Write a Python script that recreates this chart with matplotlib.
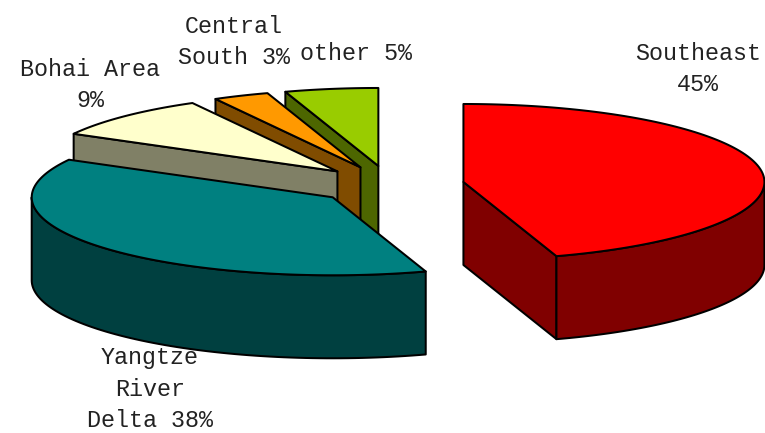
import numpy as np
import matplotlib
matplotlib.use("Agg")
import matplotlib.pyplot as plt
from matplotlib.patches import Polygon

# regional shares, clockwise from 12 o'clock
regions = ["Southeast\n", "Yangtze\nRiver\nDelta ", "Bohai Area\n", "Central\nSouth ", "other "]
shares = [45, 38, 9, 3, 5]
top_colors = ["#ff0000", "#008080", "#ffffcc", "#ff9900", "#99cc00"]
side_colors = ["#800000", "#004040", "#808066", "#804c00", "#4d6600"]

# label centres in pixels
label_x = [698, 150, 90, 234, 356]
label_y = [69, 389, 85, 42, 53]

# pie geometry in pixels
CX, CY = 390, 185
RX, RY = 301, 78
DEPTH = 83
EXPLODE = 0.247
LW = 1.45


def rim(cx, cy, angles):
    """points on the top rim, angles in degrees clockwise from 12 o'clock"""
    rad = np.radians(angles)
    return np.column_stack([cx + RX * np.sin(rad), cy - RY * np.cos(rad)])


def add_face(ax, pts, color):
    ax.add_patch(Polygon(pts, closed=True, facecolor=color, edgecolor="black",
                         linewidth=LW, joinstyle="round"))


def draw_slice(ax, start, end, top, side):
    mid = np.radians((start + end) / 2)
    cx = CX + EXPLODE * RX * np.sin(mid)
    cy = CY - EXPLODE * RY * np.cos(mid)
    apex = np.array([[cx, cy]])
    down = np.array([0, DEPTH])

    # flat cut faces, only those turned towards the viewer
    for angle, visible in ((start, np.sin(np.radians(start)) < -1e-9),
                           (end, np.sin(np.radians(end)) > 1e-9)):
        if visible:
            edge = np.vstack([apex, rim(cx, cy, [angle])])
            add_face(ax, np.vstack([edge, edge[::-1] + down]), side)

    # curved outer wall on the front half of the rim
    lo, hi = max(start, 90), min(end, 270)
    if hi > lo:
        arc = rim(cx, cy, np.linspace(lo, hi, 80))
        add_face(ax, np.vstack([arc, arc[::-1] + down]), side)

    arc = rim(cx, cy, np.linspace(start, end, 120))
    add_face(ax, np.vstack([apex, arc]), top)


fig = plt.figure(figsize=(7.65, 4.33), dpi=100)
ax = fig.add_axes([0, 0, 1, 1])
ax.set_xlim(0, 765)
ax.set_ylim(433, 0)
ax.axis("off")

edges = np.concatenate([[0], np.cumsum(shares)]) * 360 / sum(shares)

# back slices first so the front ones cover them
for i in reversed(range(len(shares))):
    draw_slice(ax, edges[i], edges[i + 1], top_colors[i], side_colors[i])

for name, share, x, y in zip(regions, shares, label_x, label_y):
    ax.text(x, y, f"{name}{share}%", ha="center", va="center", ma="center",
            family="Liberation Mono", fontsize=16.8, color="#222222", linespacing=1.47)

fig.savefig("out.png", dpi=100)
